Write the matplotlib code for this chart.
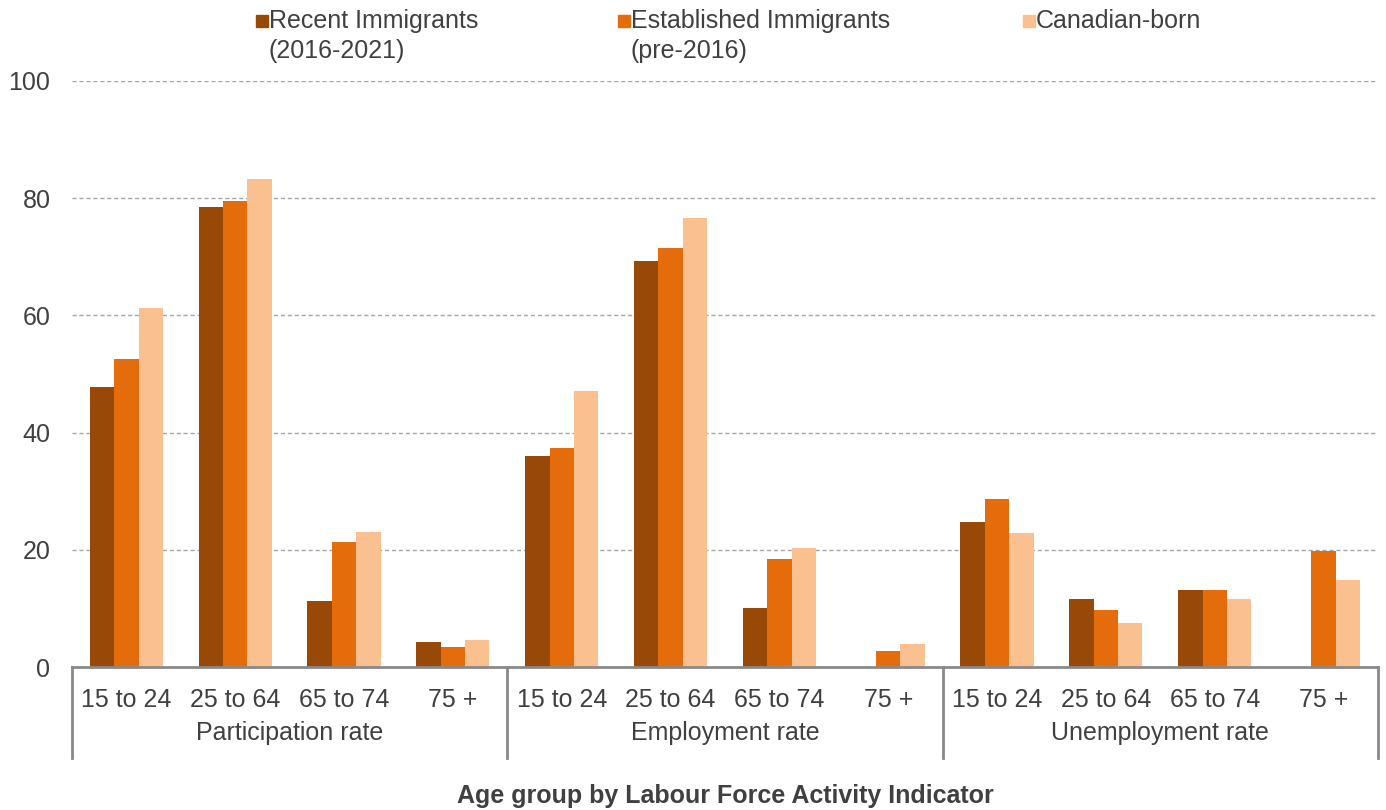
import numpy as np
import matplotlib.pyplot as plt
from matplotlib.patches import Rectangle

plt.rcParams['font.family'] = ['Liberation Sans', 'DejaVu Sans']

ages = ["15 to 24", "25 to 64", "65 to 74", "75 +"]
indicators = ["Participation rate", "Employment rate", "Unemployment rate"]

series_names = ["Recent Immigrants\n(2016-2021)", "Established Immigrants\n(pre-2016)", "Canadian-born"]
colors = ["#984807", "#E46C0A", "#FAC090"]

# values per indicator block: participation, employment, unemployment (4 ages each)
recent = [47.8, 78.5, 11.3, 4.2,
          36.0, 69.3, 10.0, np.nan,
          24.8, 11.6, 13.1, np.nan]
established = [52.5, 79.5, 21.4, 3.4,
               37.4, 71.5, 18.5, 2.8,
               28.6, 9.8, 13.1, 19.8]
canadian = [61.2, 83.2, 23.0, 4.6,
            47.1, 76.7, 20.3, 3.9,
            22.9, 7.5, 11.6, 14.9]

text_col = "#404040"
axis_col = "#898989"
fs = 18

fig = plt.figure(figsize=(13.86, 8.10), dpi=100)
ax = fig.add_axes([0.0519, 0.1765, 0.9423, 0.7235])

x = np.arange(len(recent))
w = 0.224
for i, (vals, c) in enumerate(zip([recent, established, canadian], colors)):
    ax.bar(x + (i - 1) * w, vals, width=w, color=c, linewidth=0, zorder=3)

ax.set_xlim(-0.5, len(x) - 0.5)
ax.set_ylim(0, 100)
ax.set_yticks([0, 20, 40, 60, 80, 100])
ax.tick_params(axis='y', length=0, pad=15.5, labelsize=fs, labelcolor=text_col)
ax.set_xticks([])
for y in [20, 40, 60, 80, 100]:
    ax.axhline(y, color="#A6A6A6", lw=1, ls=(0, (3, 2)), zorder=1)

for s in ["top", "right", "left"]:
    ax.spines[s].set_visible(False)
ax.spines["bottom"].set_color(axis_col)
ax.spines["bottom"].set_linewidth(2)
ax.spines["bottom"].set_zorder(4)

tr = ax.get_xaxis_transform()
ax_h = 586.0
for k in range(4):
    xs = -0.5 + 4 * k
    ax.plot([xs, xs], [0, -91 / ax_h], transform=tr, color=axis_col, lw=2, clip_on=False)

for j in range(len(x)):
    ax.text(x[j], -40 / ax_h, ages[j % 4], transform=tr, ha='center', va='baseline',
            fontsize=fs, color=text_col)
for k, name in enumerate(indicators):
    ax.text(1.5 + 4 * k, -73 / ax_h, name, transform=tr, ha='center', va='baseline',
            fontsize=fs, color=text_col)
ax.text(5.5, -129 / ax_h, "Age group by Labour Force Activity Indicator", transform=tr,
        ha='center', va='center', fontsize=fs, fontweight='bold', color=text_col)

# legend drawn by hand so markers sit on the first line
W, H = 1386.0, 810.0
leg_x = [256, 618, 1023]
for lx, name, c in zip(leg_x, series_names, colors):
    fig.patches.append(Rectangle((lx / W, 1 - 27 / H), 12 / W, 12 / H, color=c,
                                 transform=fig.transFigure, figure=fig))
    fig.text((lx + 13) / W, 1 - 9 / H, name, ha='left', va='top', fontsize=fs,
             color=text_col, linespacing=1.33)

fig.savefig("out.png", dpi=100)
